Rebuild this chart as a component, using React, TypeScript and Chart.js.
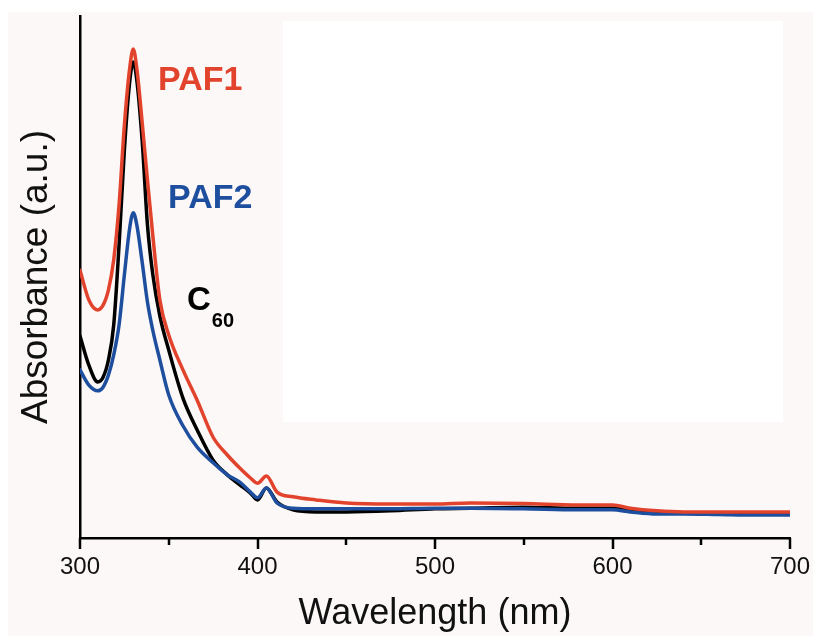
import { useEffect, useRef } from "react";
import { Chart, registerables } from "chart.js";

Chart.register(...registerables);

// ---- data ----
const wavelengths = [
  300, 305, 310, 313, 316, 319, 322, 325, 328, 330, 332, 335, 338, 341, 345, 350, 358, 366, 375, 383,
  390, 396, 400, 405, 411, 420, 433, 450, 475, 500, 520, 550, 580, 600, 610, 625, 640, 660, 680, 700,
];
const paf1 = [
  0.513, 0.456, 0.437, 0.446, 0.475, 0.533, 0.638, 0.791, 0.9, 0.937, 0.9, 0.797, 0.686, 0.58, 0.456, 0.389,
  0.322, 0.264, 0.193, 0.159, 0.134, 0.115, 0.105, 0.119, 0.088, 0.079, 0.073, 0.067, 0.065, 0.065, 0.067,
  0.066, 0.063, 0.063, 0.057, 0.052, 0.05, 0.05, 0.05, 0.05,
];
const c60 = [
  0.387, 0.331, 0.299, 0.308, 0.341, 0.408, 0.561, 0.743, 0.874, 0.912, 0.877, 0.762, 0.6, 0.505, 0.425,
  0.36, 0.268, 0.207, 0.149, 0.121, 0.102, 0.086, 0.073, 0.096, 0.069, 0.054, 0.05, 0.05, 0.052, 0.056,
  0.057, 0.059, 0.057, 0.057, 0.054, 0.05, 0.048, 0.048, 0.048, 0.048,
];
const paf2 = [
  0.322, 0.293, 0.282, 0.289, 0.312, 0.351, 0.408, 0.504, 0.594, 0.623, 0.6, 0.529, 0.452, 0.398, 0.341,
  0.274, 0.215, 0.174, 0.144, 0.121, 0.107, 0.088, 0.077, 0.096, 0.067, 0.057, 0.056, 0.056, 0.056, 0.057,
  0.057, 0.056, 0.054, 0.054, 0.05, 0.046, 0.046, 0.045, 0.044, 0.044,
];
const majorTicks = [300, 400, 500, 600, 700];
const minorTicks = [350, 450, 550, 650];

// ---- styles ----
const RED = "#e2432c";
const BLUE = "#1e4f9f";
const BLACK = "#000000";
const FONT = "'Liberation Sans', Arial, Helvetica, sans-serif";

// series labels (anchored in data units)
const annotations = [
  { text: "PAF1", x: 344, y: 0.858, color: RED, size: 34 },
  { text: "PAF2", x: 349.6, y: 0.632, color: BLUE, size: 34 },
  { text: "C", x: 360.3, y: 0.437, color: BLACK, size: 33 },
];
const subscript = { text: "60", dy: 17, color: BLACK, size: 20 };

const toPoints = (ys: number[]) => wavelengths.map((x, i) => ({ x, y: ys[i] }));

const decorPlugin = {
  id: "decor",
  beforeDraw(chart: any) {
    const { ctx, width, height } = chart;
    ctx.save();
    ctx.fillStyle = "#ffffff";
    ctx.fillRect(0, 0, width, height);
    ctx.fillStyle = "#fcf8f7";
    ctx.fillRect(8, 12, width - 8, height - 12);
    ctx.fillStyle = "#ffffff";
    ctx.fillRect(283, 21, 500, 401);
    ctx.restore();
  },
  afterDraw(chart: any) {
    const { ctx } = chart;
    const xs = chart.scales.x;
    const ys = chart.scales.y;
    const base = chart.chartArea.bottom;
    ctx.save();
    ctx.strokeStyle = "#000";
    ctx.lineWidth = 2.5;
    const drawTick = (v: number, len: number) => {
      const px = Math.round(xs.getPixelForValue(v));
      ctx.beginPath();
      ctx.moveTo(px, base);
      ctx.lineTo(px, base + len);
      ctx.stroke();
    };
    majorTicks.forEach((v) => drawTick(v, 11));
    minorTicks.forEach((v) => drawTick(v, 7));

    ctx.textBaseline = "alphabetic";
    ctx.textAlign = "left";
    let lastRight = 0;
    let lastBase = 0;
    annotations.forEach((a) => {
      ctx.font = `bold ${a.size}px ${FONT}`;
      ctx.fillStyle = a.color;
      const px = xs.getPixelForValue(a.x);
      const py = ys.getPixelForValue(a.y);
      ctx.fillText(a.text, px, py);
      lastRight = px + ctx.measureText(a.text).width;
      lastBase = py;
    });
    ctx.font = `bold ${subscript.size}px ${FONT}`;
    ctx.fillStyle = subscript.color;
    ctx.fillText(subscript.text, lastRight + 1, lastBase + subscript.dy);
    ctx.restore();
  },
};

export default function App() {
  const ref = useRef<HTMLCanvasElement | null>(null);
  useEffect(() => {
    if (!ref.current) return;
    const chart = new Chart(ref.current, {
      type: "line",
      data: {
        datasets: [
          { label: "PAF1", data: toPoints(paf1), borderColor: RED, borderWidth: 3.5, pointRadius: 0, order: 0 },
          { label: "PAF2", data: toPoints(paf2), borderColor: BLUE, borderWidth: 3.5, pointRadius: 0, order: 1 },
          { label: "C60", data: toPoints(c60), borderColor: BLACK, borderWidth: 3.5, pointRadius: 0, order: 2 },
        ],
      },
      options: {
        animation: false,
        responsive: false,
        devicePixelRatio: 1,
        parsing: false as any,
        layout: { padding: { top: 16, right: 23, left: 0, bottom: 0 } },
        plugins: { legend: { display: false }, tooltip: { enabled: false } },
        elements: { line: { cubicInterpolationMode: "monotone", borderJoinStyle: "round", borderCapStyle: "round" } },
        scales: {
          x: {
            type: "linear",
            min: 300,
            max: 700,
            afterFit: (s: any) => {
              s.height = 98;
              s.paddingLeft = 0;
              s.paddingRight = 0;
            },
            afterBuildTicks: (s: any) => {
              s.ticks = majorTicks.map((v) => ({ value: v }));
            },
            grid: { display: false, drawTicks: false },
            border: { display: true, color: "#000", width: 2.5 },
            ticks: { color: "#111", padding: 15, font: { family: FONT, size: 24 }, maxRotation: 0 },
            title: {
              display: true,
              text: "Wavelength (nm)",
              color: "#111",
              font: { family: FONT, size: 36 },
              padding: { top: 0, bottom: 0 },
            },
          },
          y: {
            type: "linear",
            min: 0,
            max: 1,
            afterFit: (s: any) => {
              s.width = 80;
              s.paddingTop = 0;
              s.paddingBottom = 0;
            },
            grid: { display: false, drawTicks: false },
            border: { display: true, color: "#000", width: 2.5 },
            ticks: { display: false },
            title: {
              display: true,
              text: "Absorbance (a.u.)",
              color: "#111",
              font: { family: FONT, size: 37 },
              padding: { top: 15, bottom: 0 },
            },
          },
        },
      },
      plugins: [decorPlugin],
    });
    return () => chart.destroy();
  }, []);
  return (
    <div style={{ position: "absolute", left: 0, top: 0, width: 813, height: 636 }}>
      <canvas ref={ref} width={813} height={636} style={{ width: 813, height: 636 }} />
    </div>
  );
}
